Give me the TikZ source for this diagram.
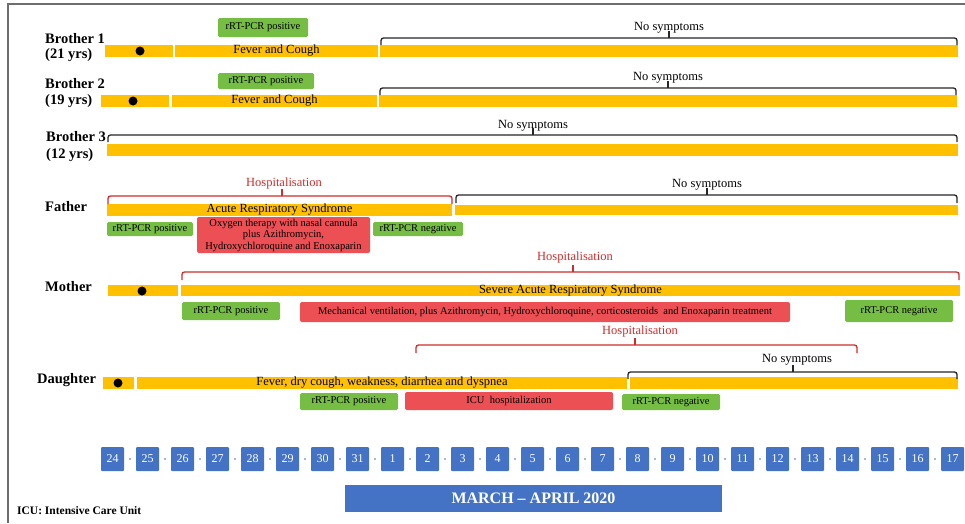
\documentclass[tikz,border=0pt]{standalone}
\usepackage{fontspec}
\setmainfont{Liberation Serif}
\definecolor{barY}{RGB}{255,192,0}
\definecolor{boxG}{RGB}{118,190,67}
\definecolor{boxR}{RGB}{236,80,84}
\definecolor{dateB}{RGB}{68,114,196}
\definecolor{dotB}{RGB}{160,185,225}
\definecolor{hospR}{RGB}{205,45,45}
\definecolor{frameG}{RGB}{110,110,110}
\tikzset{
  barseg/.style={fill=barY, draw=none, inner sep=0pt, font=\fontsize{12.5}{13}\selectfont},
  gbox/.style={fill=boxG, draw=none, rounded corners=1.5pt, inner sep=0pt, font=\fontsize{10.5}{11}\selectfont},
  rbox/.style={fill=boxR, draw=none, rounded corners=2pt, inner sep=0pt, font=\fontsize{10.5}{11.5}\selectfont, align=center},
  dbox/.style={fill=dateB, draw=none, text=white, rounded corners=1pt, minimum width=23pt, minimum height=24pt, inner sep=0pt, font=\fontsize{12}{12}\selectfont},
  mbar/.style={fill=dateB, draw=none, text=white, inner sep=0pt, font=\bfseries\fontsize{16}{16}\selectfont},
  lbl/.style={anchor=west, inner sep=0pt, font=\bfseries\fontsize{14.5}{15}\selectfont},
  nosym/.style={inner sep=0pt, font=\fontsize{12.5}{13}\selectfont},
  hosp/.style={inner sep=0pt, text=hospR, font=\fontsize{12.5}{13}\selectfont},
  kbrace/.style={draw=black!85, line width=1.3pt, rounded corners=2.5pt},
  rbrace/.style={draw=hospR, line width=1.3pt, rounded corners=2.5pt},
  bdot/.style={circle, fill=black, inner sep=0pt, minimum size=9pt},
  dlink/.style={draw=dotB, line width=2.2pt, shorten <=4.5pt, shorten >=4.5pt},
}
% \seg[style]{name}{x1}{x2}{y1}{y2}{text}
\newcommand{\seg}[7][barseg]{\node[#1, minimum width={(#4)-(#3)}, minimum height={(#6)-(#5)}] (#2) at ({((#3)+(#4))/2},{((#5)+(#6))/2}) {#7};}
% \brk{style}{x1}{x2}{y}{drop}{xc}
\newcommand{\brk}[6]{\draw[#1] (#2,{#4+#5}) -- (#2,#4) -- (#3,#4) -- (#3,{#4+#5}); \draw[#1, rounded corners=0pt] (#6,#4) -- (#6,{#4-7});}
\begin{document}
\begin{tikzpicture}[x=1pt,y=-1pt]
\useasboundingbox (0,0) rectangle (965,523);
\fill[white] (0,0) rectangle (965,523);
\draw[frameG, line width=1.3pt] (8,523) -- (8,4) -- (965,4);

% ---------- Brother 1
\node[lbl] (lb1a) at (45,39) {Brother 1};
\node[lbl] (lb1b) at (45,55) {(21 yrs)};
\seg{b1a}{105}{173}{45}{57}{}
\node[bdot] (b1d) at (140,51) {};
\seg{b1b}{175}{378}{45}{57}{Fever and Cough}
\seg{b1c}{380}{958}{45}{57}{}
\seg[gbox]{b1g}{218}{308}{18}{37}{rRT-PCR positive}
\brk{kbrace}{381}{957}{38}{7}{669}
\node[nosym] (b1n) at (669,28) {No symptoms};

% ---------- Brother 2
\node[lbl] (lb2a) at (45,84) {Brother 2};
\node[lbl] (lb2b) at (45,101) {(19 yrs)};
\seg{b2a}{101}{169}{95}{107}{}
\node[bdot] (b2d) at (133,101) {};
\seg{b2b}{172}{377}{95}{107}{Fever and Cough}
\seg{b2c}{379}{957}{95}{107}{}
\seg[gbox]{b2g}{218}{314}{73}{89}{rRT-PCR positive}
\brk{kbrace}{380}{956}{88}{7}{668}
\node[nosym] (b2n) at (668,78) {No symptoms};

% ---------- Brother 3
\node[lbl] (lb3a) at (46,137) {Brother 3};
\node[lbl] (lb3b) at (46,155) {(12 yrs)};
\seg{b3a}{107}{958}{144}{156}{}
\brk{kbrace}{108}{957}{135}{7}{533}
\node[nosym] (b3n) at (533,126) {No symptoms};

% ---------- Father
\node[lbl] (lf) at (45,207) {Father};
\seg{f1}{107}{452}{205}{215}{Acute Respiratory Syndrome}
\seg{f2}{455}{958}{205}{215}{}
\brk{rbrace}{108}{452}{196}{8}{282}
\node[hosp] (fh) at (284,183) {Hospitalisation};
\brk{kbrace}{456}{957}{195}{8}{707}
\node[nosym] (fn) at (707,185) {No symptoms};
\seg[gbox]{fg1}{107}{193}{222}{236}{rRT-PCR positive}
\seg[rbox]{fr}{197}{370}{217}{253}{Oxygen therapy with nasal cannula\\plus Azithromycin,\\Hydroxychloroquine and Enoxaparin}
\seg[gbox]{fg2}{373}{463}{222}{236}{rRT-PCR negative}

% ---------- Mother
\node[lbl] (lm) at (45,287) {Mother};
\seg{m1}{108}{178}{285}{296}{}
\node[bdot] (md) at (142,291) {};
\seg{m2}{181}{960}{285}{296}{Severe Acute Respiratory Syndrome}
\brk{rbrace}{182}{959}{272}{8}{573}
\node[hosp] (mh) at (575,257) {Hospitalisation};
\seg[gbox]{mg1}{182}{280}{302}{320}{rRT-PCR positive}
\seg[rbox]{mr}{300}{790}{302}{322}{Mechanical ventilation, plus Azithromycin, Hydroxychloroquine, corticosteroids\ \ and Enoxaparin treatment}
\seg[gbox]{mg2}{845}{953}{300}{322}{rRT-PCR negative}

% ---------- Daughter
\node[lbl] (ld) at (37,380) {Daughter};
\seg{d1}{103}{134}{377}{389}{}
\node[bdot] (dd) at (118,383) {};
\seg{d2}{137}{627}{377}{389}{Fever, dry cough, weakness, diarrhea and dyspnea}
\seg{d3}{630}{958}{377}{389}{}
\brk{rbrace}{416}{857}{345}{8}{635}
\node[hosp] (dh) at (640,331) {Hospitalisation};
\brk{kbrace}{628}{957}{372}{7}{793}
\node[nosym] (dn) at (797,360) {No symptoms};
\seg[gbox]{dg1}{300}{398}{393}{410}{rRT-PCR positive}
\seg[rbox]{dr}{405}{613}{392}{410}{ICU\ \ hospitalization}
\seg[gbox]{dg2}{622}{720}{394}{410}{rRT-PCR negative}

% ---------- Dates
\foreach \d [count=\i from 0] in {24,25,26,27,28,29,30,31,1,2,3,4,5,6,7,8,9,10,11,12,13,14,15,16,17}{
  \node[dbox] (date\i) at ({112.5+35*\i},459) {\d};
}
\foreach \i in {1,...,24}{
  \pgfmathtruncatemacro\j{\i-1}
  \draw[dlink] (date\j) -- (date\i);
}
\seg[mbar]{month}{345}{722}{485}{512}{MARCH -- APRIL 2020}

\node[anchor=west, inner sep=0pt, font=\bfseries\fontsize{11.5}{12}\selectfont] (icu) at (17,511) {ICU: Intensive Care Unit};
\end{tikzpicture}
\end{document}
